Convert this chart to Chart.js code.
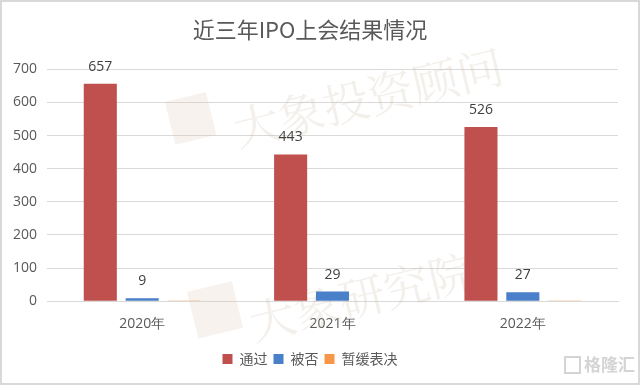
<!DOCTYPE html>
<html><head><meta charset="utf-8">
<script src="https://cdn.jsdelivr.net/npm/chart.js@4/dist/chart.umd.min.js"></script>
<style>
html,body{margin:0;padding:0;background:#fff;}
#wrap{position:relative;width:640px;height:385px;box-sizing:border-box;border:2px solid #d9d9d9;}
canvas{display:block;}
</style></head>
<body><div id="wrap"><canvas id="c" width="636" height="381"></canvas></div>
<script>
const categories = ['2020年', '2021年', '2022年'];
const passed = [657, 443, 526];
const rejected = [9, 29, 27];
const postponed = [2, 1, 2];
const seriesNames = ['通过', '被否', '暂缓表决'];
const yTicks = [0, 100, 200, 300, 400, 500, 600, 700];

const FONT = '"Noto Sans CJK SC", "Noto Sans", sans-serif';
const NUMFONT = '"Open Sans", "Noto Sans", sans-serif';

const labelPlugin = {
  id: 'barLabels',
  afterDatasetsDraw(chart) {
    const ctx = chart.ctx;
    ctx.save();
    ctx.font = '14px ' + NUMFONT;
    ctx.fillStyle = '#404040';
    ctx.textAlign = 'center';
    ctx.textBaseline = 'bottom';
    [0, 1].forEach(di => {
      const meta = chart.getDatasetMeta(di);
      meta.data.forEach((bar, i) => {
        ctx.fillText(String(chart.data.datasets[di].data[i]), bar.x, bar.y - 10);
      });
    });
    ctx.restore();
  }
};

const watermarkPlugin = {
  id: 'watermark',
  beforeDatasetsDraw(chart) {
    const ctx = chart.ctx;
    ctx.save();
    ctx.fillStyle = 'rgba(200,180,165,0.22)';
    ctx.font = '46px "Noto Serif CJK SC", "Noto Sans CJK SC", serif';
    ctx.translate(232, 128);
    ctx.rotate(-0.24);
    ctx.fillText('大象投资顾问', 0, 0);
    ctx.restore();
    ctx.save();
    ctx.fillStyle = 'rgba(200,180,165,0.22)';
    ctx.font = '46px "Noto Serif CJK SC", "Noto Sans CJK SC", serif';
    ctx.translate(248, 322);
    ctx.rotate(-0.24);
    ctx.fillText('大象研究院', 0, 0);
    ctx.restore();
    // logo boxes
    ctx.save();
    ctx.fillStyle = 'rgba(225,205,185,0.25)';
    ctx.translate(163, 100);
    ctx.rotate(-0.24);
    ctx.fillRect(0, 0, 42, 44);
    ctx.restore();
    ctx.save();
    ctx.fillStyle = 'rgba(225,205,185,0.25)';
    ctx.translate(185, 290);
    ctx.rotate(-0.24);
    ctx.fillRect(0, 0, 46, 48);
    ctx.restore();
  },
  afterDraw(chart) {
    const ctx = chart.ctx;
    ctx.save();
    ctx.fillStyle = 'rgba(170,170,170,0.5)';
    ctx.font = 'bold 17px "Noto Sans CJK SC", sans-serif';
    ctx.textBaseline = 'middle';
    ctx.fillText('格隆汇', 582, 363);
    ctx.strokeStyle = 'rgba(170,170,170,0.5)';
    ctx.lineWidth = 2;
    ctx.strokeRect(563, 355, 15, 16);
    ctx.restore();
  }
};

new Chart(document.getElementById('c'), {
  type: 'bar',
  data: {
    labels: categories,
    datasets: [
      { label: seriesNames[0], data: passed, backgroundColor: '#C0504D' },
      { label: seriesNames[1], data: rejected, backgroundColor: '#4A7FC9' },
      { label: seriesNames[2], data: postponed, backgroundColor: '#F79646' }
    ]
  },
  options: {
    responsive: false,
    animation: false,
    devicePixelRatio: 1,
    layout: { padding: { top: 6, right: 20, bottom: 7, left: 0 } },
    datasets: { bar: { categoryPercentage: 0.66, barPercentage: 0.79 } },
    plugins: {
      title: {
        display: true,
        text: '近三年IPO上会结果情况',
        color: '#595959',
        font: { family: FONT, size: 22, weight: 'normal' },
        padding: { top: 8, bottom: 27 }
      },
      legend: {
        position: 'bottom',
        labels: {
          color: '#595959',
          font: { family: FONT, size: 14 },
          boxWidth: 10, boxHeight: 10, padding: 6
        }
      },
      tooltip: { enabled: false }
    },
    scales: {
      x: {
        grid: { display: false, drawTicks: false },
        border: { display: true, color: '#d9d9d9' },
        ticks: { color: '#595959', font: { family: NUMFONT, size: 14 }, padding: 14 }
      },
      y: {
        min: 0, max: 700,
        afterBuildTicks(s) { s.ticks = yTicks.map(v => ({ value: v })); },
        afterFit(s) { s.width = 45; },
        grid: { color: '#d9d9d9', drawTicks: false },
        border: { display: false },
        ticks: { color: '#595959', font: { family: NUMFONT, size: 14 }, padding: 10 }
      }
    }
  },
  plugins: [labelPlugin, watermarkPlugin]
});
</script>
</body></html>
